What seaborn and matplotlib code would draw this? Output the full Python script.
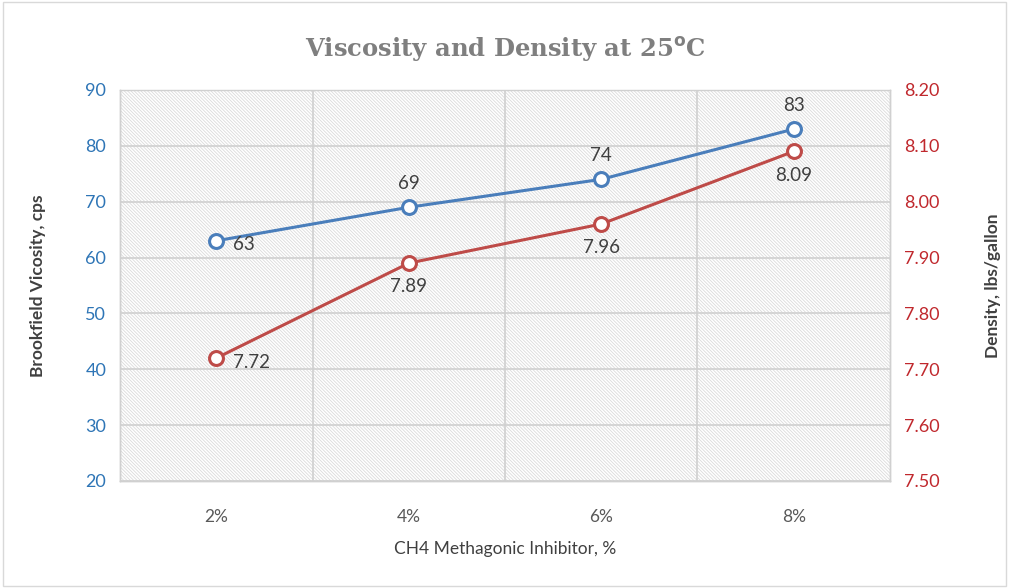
import numpy as np
import pandas as pd
import seaborn as sns
import matplotlib.pyplot as plt
from matplotlib.patches import Rectangle

# data
categories = ['2%', '4%', '6%', '8%']
viscosity = [63, 69, 74, 83]
density = [7.72, 7.89, 7.96, 8.09]

blue = '#4a7ebb'
red = '#be4b48'
grid_c = '#d0d0d0'

sns.set_theme(style='white')
plt.rcParams['font.family'] = ['Lato', 'DejaVu Sans']
plt.rcParams['hatch.linewidth'] = 0.6

df = pd.DataFrame({'pos': np.arange(len(categories)), 'cat': categories,
                   'visc': viscosity, 'dens': density})

fig = plt.figure(figsize=(10.09, 5.88), dpi=100)
ax = fig.add_axes([0.119, 0.182, 0.763, 0.665])
ax2 = ax.twinx()

# hatched plot background
ax.add_patch(Rectangle((0, 0), 1, 1, transform=ax.transAxes, facecolor='white',
                       edgecolor='#dadada', hatch='\\' * 10, linewidth=0, zorder=0))

sns.lineplot(data=df, x='pos', y='visc', ax=ax, color=blue, linewidth=2.2,
             marker='o', markersize=10, markerfacecolor='white',
             markeredgecolor=blue, markeredgewidth=2.2, zorder=5)
sns.lineplot(data=df, x='pos', y='dens', ax=ax2, color=red, linewidth=2.2,
             marker='o', markersize=10, markerfacecolor='white',
             markeredgecolor=red, markeredgewidth=2.2, zorder=5)

ax.set_xlim(-0.5, 3.5)
ax.set_ylim(20, 90)
ax2.set_ylim(7.5, 8.2)
ax.set_yticks(range(20, 91, 10))
ax2.set_yticks(np.arange(7.5, 8.21, 0.1))
ax2.set_yticklabels([f'{v:.2f}' for v in np.arange(7.5, 8.21, 0.1)])
ax.set_xticks(df['pos'])
ax.set_xticklabels(categories)
ax.set_xticks([0.5, 1.5, 2.5], minor=True)

ax.grid(True, axis='y', color=grid_c, linewidth=1.2, zorder=1)
for b in [0.5, 1.5, 2.5]:
    ax.axvline(b, color=grid_c, linewidth=1.2, zorder=1)
ax.set_axisbelow(True)

ax.tick_params(axis='x', which='major', length=0, labelsize=12.5, labelcolor='#595959', pad=20)
ax.tick_params(axis='x', which='minor', length=8, color=grid_c, width=1, direction='out')
ax.tick_params(axis='y', length=0, labelsize=13, labelcolor='#2e75b6', pad=10)
ax2.tick_params(axis='y', length=0, labelsize=13, labelcolor='#c0282d', pad=10)

for a in (ax, ax2):
    for s in a.spines.values():
        s.set_color(grid_c)
        s.set_linewidth(1)
ax2.spines['top'].set_visible(False)

ax.set_xlabel('CH4 Methagonic Inhibitor, %', fontsize=12.5, color='#404040', labelpad=12)
ax.set_ylabel('Brookfield Vicosity, cps', fontsize=12.5, fontweight='bold', color='#404040', labelpad=28)
ax2.set_ylabel('Density, lbs/gallon', fontsize=12.5, fontweight='bold', color='#404040', labelpad=33)
ax.set_title('Viscosity and Density at 25$^\\mathbf{o}$C', fontsize=17.5, fontweight='bold',
             color='#7f7f7f', family='DejaVu Serif', pad=24)

# data labels
for i, v in enumerate(viscosity):
    if i == 0:
        ax.annotate(str(v), (i, v), xytext=(12, -3), textcoords='offset points',
                    ha='left', va='center', fontsize=13.5, color='#404040', zorder=6)
    else:
        ax.annotate(str(v), (i, v), xytext=(0, 11), textcoords='offset points',
                    ha='center', va='bottom', fontsize=13.5, color='#404040', zorder=6)
for i, v in enumerate(density):
    if i == 0:
        ax2.annotate(f'{v:.2f}', (i, v), xytext=(12, -3), textcoords='offset points',
                     ha='left', va='center', fontsize=13.5, color='#404040', zorder=6)
    else:
        ax2.annotate(f'{v:.2f}', (i, v), xytext=(0, -11), textcoords='offset points',
                     ha='center', va='top', fontsize=13.5, color='#404040', zorder=6)

# chart frame
fig.patches.append(Rectangle((0.003, 0.003), 0.994, 0.994, transform=fig.transFigure,
                             fill=False, edgecolor='#d9d9d9', linewidth=1))

fig.savefig('out.png', dpi=100)
